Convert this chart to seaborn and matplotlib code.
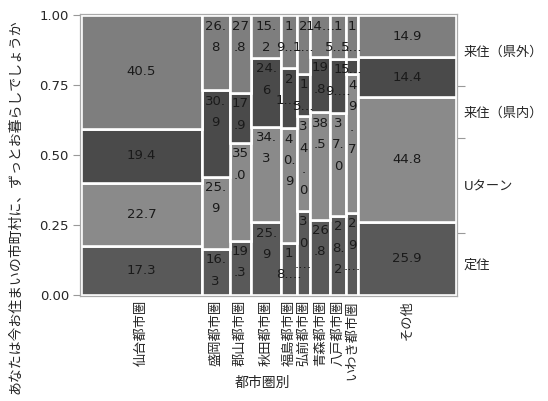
import numpy as np
import pandas as pd
import matplotlib
matplotlib.use('Agg')
import matplotlib.pyplot as plt
import seaborn as sns

# columns (都市圏) and their share of respondents (%)
areas = ['仙台都市圏', '盛岡都市圏', '郡山都市圏', '秋田都市圏', '福島都市圏',
         '弘前都市圏', '青森都市圏', '八戸都市圏', 'いわき都市圏', 'その他']
area_share = [32.1, 7.5, 5.7, 8.1, 4.1, 3.7, 5.3, 4.2, 3.3, 26.0]

# answers, bottom to top
cats = ['定住', 'Uターン', '来住（県内）', '来住（県外）']
teiju  = [17.3, 16.3, 19.3, 25.9, 18.6, 30.0, 26.8, 28.2, 29.2, 25.9]
uturn  = [22.7, 25.9, 35.0, 34.3, 40.9, 34.0, 38.5, 37.0, 49.7, 44.8]
kennai = [19.4, 30.9, 17.9, 24.6, 21.5, 15.0, 19.8, 19.2, 5.5, 14.4]
kengai = [40.5, 26.8, 27.8, 15.2, 19.0, 21.0, 14.9, 15.6, 15.6, 14.9]
colors = ['#595959', '#8a8a8a', '#4a4a4a', '#7e7e7e']

sns.set_style('white')
plt.rcParams['font.family'] = ['DejaVu Sans', 'Noto Sans CJK JP']

values = dict(zip(cats, [teiju, uturn, kennai, kengai]))
share = np.array(area_share) / sum(area_share)
edges = np.concatenate([[0], np.cumsum(share)])
edges[-1] = 1.0
centers = (edges[:-1] + edges[1:]) / 2

rows = []
for i, a in enumerate(areas):
    for c in cats:
        rows.append({'area': a, 'x': centers[i], 'cat': c, 'pct': values[c][i]})
df = pd.DataFrame(rows)

fig = plt.figure(figsize=(5.48, 4.01), dpi=100)
AX_W, AX_H = 377, 282
ax = fig.add_axes([80 / 548, 105 / 401, AX_W / 548, AX_H / 401])
sns.histplot(data=df, x='x', weights='pct', hue='cat', hue_order=cats[::-1],
             bins=edges.tolist(), multiple='fill', palette=dict(zip(cats, colors)),
             edgecolor='white', linewidth=1.9, alpha=1, legend=False, ax=ax)
ax.set_xlim(-0.004, 1.004)
ax.set_ylim(-0.005, 1.005)


def wrap_label(s, avail):
    lines, cur, w = [], '', 0
    for ch in s:
        cw = 4.1 if ch == '.' else 8.2
        if cur and w + cw > avail:
            lines.append(cur)
            cur, w = '', 0
        cur += ch
        w += cw
    lines.append(cur)
    return lines


# tile labels
for i in range(len(areas)):
    col = np.array([values[c][i] for c in cats])
    frac = col / col.sum()
    bottoms = np.concatenate([[0], np.cumsum(frac)[:-1]])
    w_px = share[i] * AX_W
    for j in range(len(cats)):
        s = f'{col[j]:.1f}'
        h_px = frac[j] * AX_H
        lines = wrap_label(s, w_px - 3)
        if len(lines) == 1:
            ax.text(centers[i], bottoms[j] + frac[j] / 2, s, ha='center', va='center',
                    fontsize=9.5, color='#1a1a1a')
            continue
        n = max(1, int((h_px + 0.5) // 21.4))
        if n < len(lines):
            lines = lines[:n]
            lines[-1] += '…'
        top = bottoms[j] + frac[j]
        for k, ln in enumerate(lines):
            ax.text(centers[i], top - (11 + 21.5 * k) / AX_H, ln, ha='center', va='center',
                    fontsize=9.5, color='#1a1a1a')

# left axis
ax.set_yticks([0, 0.25, 0.5, 0.75, 1.0])
ax.set_yticklabels(['0.00', '0.25', '0.50', '0.75', '1.00'])
ax.set_xticks(centers)
ax.set_xticklabels(areas, rotation=90)
ax.set_xticks(edges[1:-1], minor=True)
ax.tick_params(axis='x', which='major', length=0, pad=3, labelsize=9.5)
ax.tick_params(axis='x', which='minor', length=5, color='#999999', width=0.8)
ax.tick_params(axis='y', length=5, color='#999999', width=0.8, labelsize=9.5, pad=3)
ax.set_xlabel('')
ax.set_ylabel('')
for sp in ax.spines.values():
    sp.set_color('#aaaaaa')
    sp.set_linewidth(0.8)

# right axis: overall distribution
marg = np.array([sum(share[i] * values[c][i] / sum(values[k][i] for k in cats)
                     for i in range(len(areas))) for c in cats])
mcum = np.concatenate([[0], np.cumsum(marg)])
ax2 = ax.twinx()
ax2.set_ylim(ax.get_ylim())
ax2.set_yticks(mcum[1:-1])
ax2.set_yticklabels([])
ax2.set_yticks((mcum[:-1] + mcum[1:]) / 2, minor=True)
ax2.set_yticklabels(cats, minor=True)
ax2.tick_params(axis='y', which='major', length=6, color='#999999', width=0.8)
ax2.tick_params(axis='y', which='minor', length=0, pad=5, labelsize=9.5)
for sp in ax2.spines.values():
    sp.set_color('#aaaaaa')
    sp.set_linewidth(0.8)

fig.text(262 / 548, 1 - 383 / 401, '都市圏別', ha='center', va='center', fontsize=10)
fig.text(15 / 548, 1 - 207 / 401, 'あなたは今お住まいの市町村に、ずっとお暮らしでしょうか',
         rotation=90, ha='center', va='center', fontsize=10)

fig.savefig('out.png', dpi=100)
